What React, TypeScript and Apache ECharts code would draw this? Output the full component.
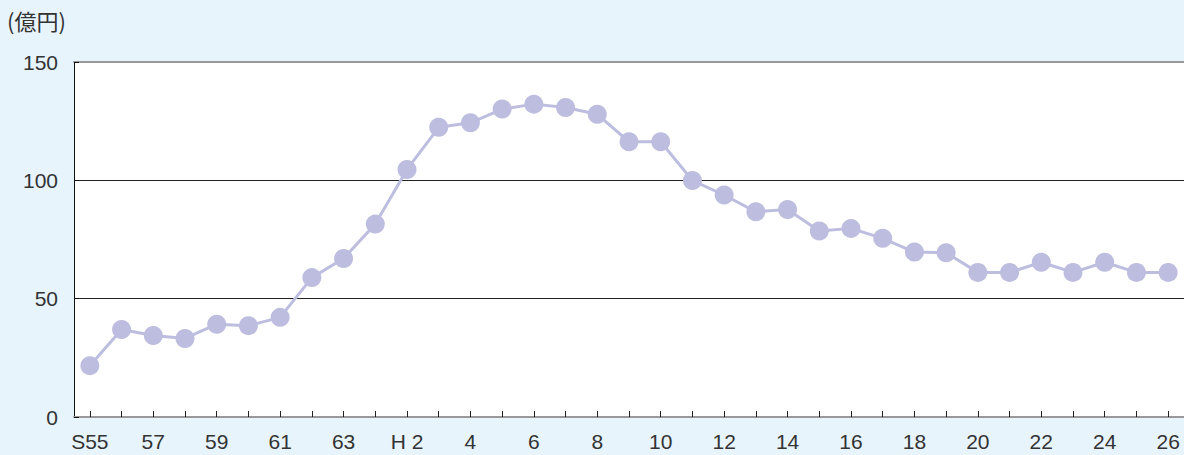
import React, { useEffect, useRef } from "react";
import * as echarts from "echarts";

const categories = [
  "S55", "56", "57", "58", "59", "60", "61", "62", "63",
  "H1", "H2", "3", "4", "5", "6", "7", "8", "9", "10", "11", "12", "13",
  "14", "15", "16", "17", "18", "19", "20", "21", "22", "23", "24", "25", "26",
];
const displayLabels: Record<string, string> = { H2: "H 2" };
const values = [
  21.7, 37.0, 34.4, 33.2, 39.2, 38.6, 42.1, 58.9, 67.0,
  81.5, 104.6, 122.4, 124.3, 130.1, 132.2, 130.8, 127.9, 116.3, 116.3, 99.9,
  93.8, 86.7, 87.7, 78.6, 79.7, 75.5, 69.7, 69.4, 61.1, 61.1, 65.4, 61.1,
  65.4, 61.1, 61.1,
];
const yTicks = [0, 50, 100, 150];
const unitLabel = "(億円)";

export default function App() {
  const ref = useRef<HTMLDivElement>(null);
  useEffect(() => {
    if (!ref.current) return;
    const chart = echarts.init(ref.current, undefined, { renderer: "svg" });
    const font = "'Liberation Sans', Arial, sans-serif";
    chart.setOption({
      animation: false,
      backgroundColor: "#e8f4fc",
      graphic: [
        {
          type: "text",
          left: 7,
          top: 9,
          style: {
            text: unitLabel,
            fontSize: 22,
            fill: "#333",
            fontFamily: "'Noto Sans CJK JP', sans-serif",
          },
        },
      ],
      grid: {
        left: 74,
        top: 62,
        right: 0,
        bottom: 38,
        show: true,
        backgroundColor: "#ffffff",
        borderWidth: 0,
      },
      xAxis: [
        {
          type: "category",
          data: categories,
          boundaryGap: true,
          axisLine: { show: true, lineStyle: { color: "#999", width: 2 } },
          axisTick: {
            show: true,
            inside: true,
            alignWithLabel: true,
            length: 6,
            interval: 0,
            lineStyle: { color: "#222", width: 1 },
          },
          axisLabel: {
            interval: 1,
            margin: 14,
            fontSize: 21,
            color: "#333",
            fontFamily: font,
            formatter: (v: string) => displayLabels[v] ?? v,
          },
          splitLine: { show: false },
        },
        {
          type: "category",
          position: "top",
          data: categories,
          axisLine: { show: true, lineStyle: { color: "#999", width: 2 } },
          axisTick: { show: false },
          axisLabel: { show: false },
        },
      ],
      yAxis: {
        type: "value",
        min: yTicks[0],
        max: yTicks[yTicks.length - 1],
        interval: 50,
        axisLine: { show: true, lineStyle: { color: "#111", width: 1 } },
        axisTick: { show: true, inside: true, length: 5, lineStyle: { color: "#111" } },
        axisLabel: {
          margin: 16,
          fontSize: 21,
          color: "#333",
          fontFamily: font,
        },
        splitLine: {
          show: true,
          lineStyle: { color: ["#222", "#222", "#222", "rgba(0,0,0,0)"], width: 1 },
        },
      },
      series: [
        {
          type: "line",
          data: values,
          symbol: "circle",
          symbolSize: 19,
          lineStyle: { color: "#bdbedf", width: 3 },
          itemStyle: { color: "#bdbedf" },
          z: 5,
        },
      ],
    });
    return () => chart.dispose();
  }, []);
  return (
    <div
      ref={ref}
      style={{ position: "fixed", left: 0, top: 0, width: 1184, height: 455 }}
    />
  );
}
